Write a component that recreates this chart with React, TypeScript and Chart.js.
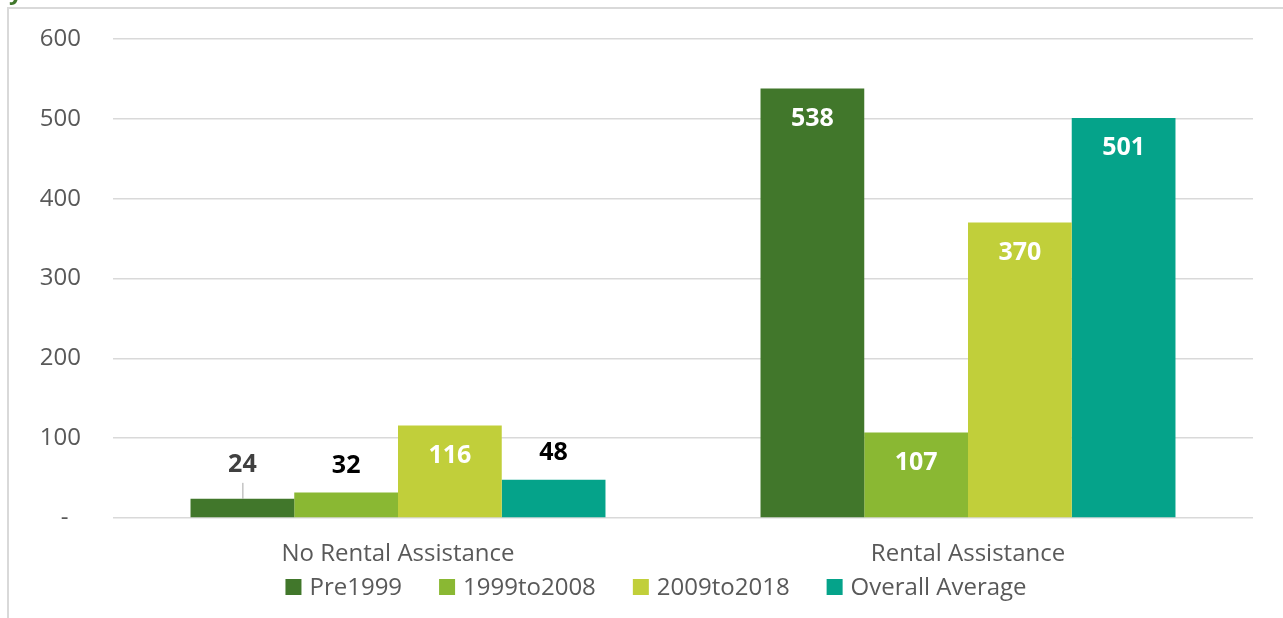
import React, { useEffect, useRef } from "react";
import { Chart, registerables } from "chart.js";

Chart.register(...registerables);

const categories = ["No Rental Assistance", "Rental Assistance"];
const seriesNames = ["Pre1999", "1999to2008", "2009to2018", "Overall Average"];
const pre1999 = [24, 538];
const from1999to2008 = [32, 107];
const from2009to2018 = [116, 370];
const overallAverage = [48, 501];
const seriesValues = [pre1999, from1999to2008, from2009to2018, overallAverage];
const yTickValues = [0, 100, 200, 300, 400, 500, 600];
const colors = ["#41772b", "#8ab833", "#c1cf3a", "#05a38a"];
const outsideLabelColors = ["#404040", "#000000", "#000000", "#000000"];

const FONT = "'Open Sans', 'DejaVu Sans', sans-serif";
const TEXT_GREY = "#595959";

const barLabelPlugin = {
  id: "barLabels",
  afterDatasetsDraw(chart: any) {
    const ctx = chart.ctx;
    ctx.save();
    ctx.font = `bold 25px ${FONT}`;
    ctx.textAlign = "center";
    ctx.textBaseline = "middle";
    chart.data.datasets.forEach((ds: any, di: number) => {
      const meta = chart.getDatasetMeta(di);
      meta.data.forEach((bar: any, i: number) => {
        const v = ds.data[i];
        const { x, y, base } = bar.getProps(["x", "y", "base"], true);
        const h = base - y;
        if (h > 60) {
          ctx.fillStyle = "#ffffff";
          ctx.fillText(String(v), x, y + 30);
        } else if (di === 0) {
          ctx.strokeStyle = "#a6a6a6";
          ctx.lineWidth = 1;
          ctx.beginPath();
          ctx.moveTo(x + 0.5, y - 16);
          ctx.lineTo(x + 0.5, y);
          ctx.stroke();
          ctx.fillStyle = outsideLabelColors[di];
          ctx.fillText(String(v), x, y - 34);
        } else {
          ctx.fillStyle = outsideLabelColors[di];
          ctx.fillText(String(v), x, y - 27);
        }
      });
    });
    ctx.restore();
  },
};

const legendPlugin = {
  id: "customLegend",
  afterDraw(chart: any) {
    const ctx = chart.ctx;
    ctx.save();
    ctx.font = `24px ${FONT}`;
    ctx.textBaseline = "middle";
    ctx.textAlign = "left";
    const box = 16;
    const gap = 8;
    const spacing = 37;
    const items = chart.data.datasets.map((ds: any) => ({
      label: ds.label,
      color: ds.backgroundColor,
      w: box + gap + ctx.measureText(ds.label).width,
    }));
    const total = items.reduce((s: number, it: any) => s + it.w, 0) + spacing * (items.length - 1);
    let x = 656 - total / 2;
    const cy = 587;
    items.forEach((it: any) => {
      ctx.fillStyle = it.color;
      ctx.fillRect(x, cy - box / 2, box, box);
      ctx.fillStyle = TEXT_GREY;
      ctx.fillText(it.label, x + box + gap, cy + 1);
      x += it.w + spacing;
    });
    ctx.restore();
  },
};

export default function App() {
  const canvasRef = useRef<HTMLCanvasElement | null>(null);

  useEffect(() => {
    if (!canvasRef.current) return;
    const chart = new Chart(canvasRef.current, {
      type: "bar",
      data: {
        labels: categories,
        datasets: seriesNames.map((name, i) => ({
          label: name,
          data: seriesValues[i],
          backgroundColor: colors[i],
          borderWidth: 0,
          categoryPercentage: 0.728,
          barPercentage: 1,
        })),
      },
      options: {
        animation: false,
        responsive: true,
        maintainAspectRatio: false,
        layout: { padding: { top: 39, right: 30, left: 0, bottom: 0 } },
        plugins: {
          legend: { display: false },
          tooltip: { enabled: false },
          title: { display: false },
        },
        scales: {
          x: {
            grid: { display: false, drawTicks: false },
            border: { display: false },
            ticks: { color: TEXT_GREY, font: { family: FONT, size: 24 }, padding: 22 },
            afterFit: (scale: any) => {
              scale.height = 100;
              scale.paddingTop = 0;
              scale.paddingBottom = 0;
            },
          },
          y: {
            min: 0,
            max: 600,
            afterBuildTicks: (scale: any) => {
              scale.ticks = yTickValues.map((v) => ({ value: v }));
            },
            grid: { color: "#d9d9d9", lineWidth: 1.5, drawTicks: false },
            border: { display: false },
            ticks: {
              color: TEXT_GREY,
              font: { family: FONT, size: 24 },
              padding: 32,
              callback: (v: any) => (Number(v) === 0 ? "-  " : String(v)),
            },
            afterFit: (scale: any) => {
              scale.width = 113;
              scale.paddingTop = 0;
              scale.paddingBottom = 0;
            },
          },
        },
      },
      plugins: [barLabelPlugin, legendPlugin],
    });
    return () => chart.destroy();
  }, []);

  return (
    <>
      <div
        style={{
          position: "fixed",
          left: 7,
          top: 7,
          width: 1400,
          height: 800,
          borderLeft: "2px solid #d9d9d9",
          borderTop: "2px solid #d9d9d9",
        }}
      />
      <span
        style={{
          position: "fixed",
          left: 9,
          top: -22,
          fontFamily: FONT,
          fontWeight: "bold",
          fontSize: 24,
          lineHeight: "24px",
          color: "#41772b",
        }}
      >
        y
      </span>
      <div style={{ position: "fixed", left: 0, top: 0, width: 1283, height: 618 }}>
        <canvas ref={canvasRef} />
      </div>
    </>
  );
}
